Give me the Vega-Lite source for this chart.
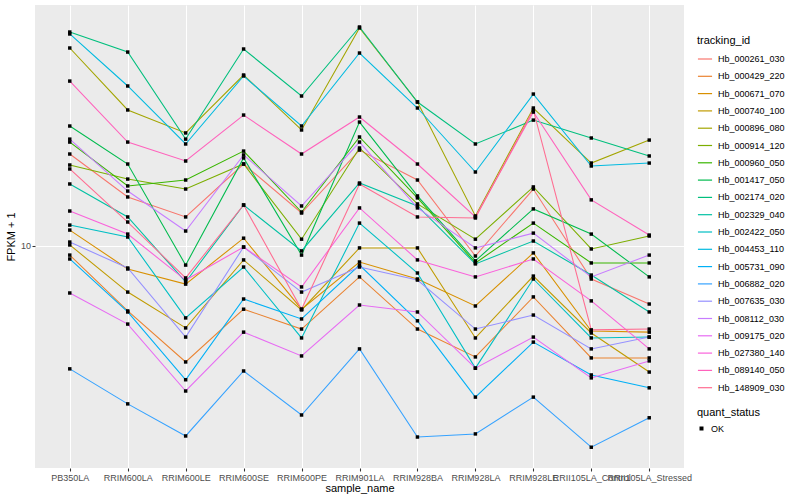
{
"$schema":"https://vega.github.io/schema/vega-lite/v6.json",
"autosize":{"type":"none"},
"padding":{"left":35,"top":5,"right":116,"bottom":32},
"width":649,"height":463,
"background":"#FFFFFF",
"datasets":{"expr":[
{"sample_name":"PB350LA","tracking_id":"Hb_000261_030","fpkm":16.98,"quant_status":"OK"},
{"sample_name":"RRIM600LA","tracking_id":"Hb_000261_030","fpkm":13.26,"quant_status":"OK"},
{"sample_name":"RRIM600LE","tracking_id":"Hb_000261_030","fpkm":11.82,"quant_status":"OK"},
{"sample_name":"RRIM600SE","tracking_id":"Hb_000261_030","fpkm":16.03,"quant_status":"OK"},
{"sample_name":"RRIM600PE","tracking_id":"Hb_000261_030","fpkm":12.09,"quant_status":"OK"},
{"sample_name":"RRIM901LA","tracking_id":"Hb_000261_030","fpkm":17.37,"quant_status":"OK"},
{"sample_name":"RRIM928BA","tracking_id":"Hb_000261_030","fpkm":14.62,"quant_status":"OK"},
{"sample_name":"RRIM928LA","tracking_id":"Hb_000261_030","fpkm":9.44,"quant_status":"OK"},
{"sample_name":"RRIM928LE","tracking_id":"Hb_000261_030","fpkm":13.88,"quant_status":"OK"},
{"sample_name":"RRII105LA_Control","tracking_id":"Hb_000261_030","fpkm":8.27,"quant_status":"OK"},
{"sample_name":"RRII105LA_Stressed","tracking_id":"Hb_000261_030","fpkm":7.16,"quant_status":"OK"},
{"sample_name":"PB350LA","tracking_id":"Hb_000429_220","fpkm":9.49,"quant_status":"OK"},
{"sample_name":"RRIM600LA","tracking_id":"Hb_000429_220","fpkm":6.88,"quant_status":"OK"},
{"sample_name":"RRIM600LE","tracking_id":"Hb_000429_220","fpkm":5.13,"quant_status":"OK"},
{"sample_name":"RRIM600SE","tracking_id":"Hb_000429_220","fpkm":6.95,"quant_status":"OK"},
{"sample_name":"RRIM600PE","tracking_id":"Hb_000429_220","fpkm":6.20,"quant_status":"OK"},
{"sample_name":"RRIM901LA","tracking_id":"Hb_000429_220","fpkm":8.37,"quant_status":"OK"},
{"sample_name":"RRIM928BA","tracking_id":"Hb_000429_220","fpkm":6.20,"quant_status":"OK"},
{"sample_name":"RRIM928LA","tracking_id":"Hb_000429_220","fpkm":5.28,"quant_status":"OK"},
{"sample_name":"RRIM928LE","tracking_id":"Hb_000429_220","fpkm":7.46,"quant_status":"OK"},
{"sample_name":"RRII105LA_Control","tracking_id":"Hb_000429_220","fpkm":5.25,"quant_status":"OK"},
{"sample_name":"RRII105LA_Stressed","tracking_id":"Hb_000429_220","fpkm":5.25,"quant_status":"OK"},
{"sample_name":"PB350LA","tracking_id":"Hb_000671_070","fpkm":10.96,"quant_status":"OK"},
{"sample_name":"RRIM600LA","tracking_id":"Hb_000671_070","fpkm":8.76,"quant_status":"OK"},
{"sample_name":"RRIM600LE","tracking_id":"Hb_000671_070","fpkm":8.03,"quant_status":"OK"},
{"sample_name":"RRIM600SE","tracking_id":"Hb_000671_070","fpkm":10.46,"quant_status":"OK"},
{"sample_name":"RRIM600PE","tracking_id":"Hb_000671_070","fpkm":6.95,"quant_status":"OK"},
{"sample_name":"RRIM901LA","tracking_id":"Hb_000671_070","fpkm":9.12,"quant_status":"OK"},
{"sample_name":"RRIM928BA","tracking_id":"Hb_000671_070","fpkm":8.27,"quant_status":"OK"},
{"sample_name":"RRIM928LA","tracking_id":"Hb_000671_070","fpkm":7.08,"quant_status":"OK"},
{"sample_name":"RRIM928LE","tracking_id":"Hb_000671_070","fpkm":9.61,"quant_status":"OK"},
{"sample_name":"RRII105LA_Control","tracking_id":"Hb_000671_070","fpkm":6.13,"quant_status":"OK"},
{"sample_name":"RRII105LA_Stressed","tracking_id":"Hb_000671_070","fpkm":6.09,"quant_status":"OK"},
{"sample_name":"PB350LA","tracking_id":"Hb_000740_100","fpkm":10.06,"quant_status":"OK"},
{"sample_name":"RRIM600LA","tracking_id":"Hb_000740_100","fpkm":7.67,"quant_status":"OK"},
{"sample_name":"RRIM600LE","tracking_id":"Hb_000740_100","fpkm":6.24,"quant_status":"OK"},
{"sample_name":"RRIM600SE","tracking_id":"Hb_000740_100","fpkm":9.23,"quant_status":"OK"},
{"sample_name":"RRIM600PE","tracking_id":"Hb_000740_100","fpkm":6.92,"quant_status":"OK"},
{"sample_name":"RRIM901LA","tracking_id":"Hb_000740_100","fpkm":9.89,"quant_status":"OK"},
{"sample_name":"RRIM928BA","tracking_id":"Hb_000740_100","fpkm":9.89,"quant_status":"OK"},
{"sample_name":"RRIM928LA","tracking_id":"Hb_000740_100","fpkm":5.89,"quant_status":"OK"},
{"sample_name":"RRIM928LE","tracking_id":"Hb_000740_100","fpkm":8.41,"quant_status":"OK"},
{"sample_name":"RRII105LA_Control","tracking_id":"Hb_000740_100","fpkm":6.06,"quant_status":"OK"},
{"sample_name":"RRII105LA_Stressed","tracking_id":"Hb_000740_100","fpkm":4.84,"quant_status":"OK"},
{"sample_name":"PB350LA","tracking_id":"Hb_000896_080","fpkm":31.26,"quant_status":"OK"},
{"sample_name":"RRIM600LA","tracking_id":"Hb_000896_080","fpkm":21.88,"quant_status":"OK"},
{"sample_name":"RRIM600LE","tracking_id":"Hb_000896_080","fpkm":19.17,"quant_status":"OK"},
{"sample_name":"RRIM600SE","tracking_id":"Hb_000896_080","fpkm":26.76,"quant_status":"OK"},
{"sample_name":"RRIM600PE","tracking_id":"Hb_000896_080","fpkm":19.50,"quant_status":"OK"},
{"sample_name":"RRIM901LA","tracking_id":"Hb_000896_080","fpkm":35.08,"quant_status":"OK"},
{"sample_name":"RRIM928BA","tracking_id":"Hb_000896_080","fpkm":22.91,"quant_status":"OK"},
{"sample_name":"RRIM928LA","tracking_id":"Hb_000896_080","fpkm":11.89,"quant_status":"OK"},
{"sample_name":"RRIM928LE","tracking_id":"Hb_000896_080","fpkm":22.13,"quant_status":"OK"},
{"sample_name":"RRII105LA_Control","tracking_id":"Hb_000896_080","fpkm":16.12,"quant_status":"OK"},
{"sample_name":"RRII105LA_Stressed","tracking_id":"Hb_000896_080","fpkm":18.40,"quant_status":"OK"},
{"sample_name":"PB350LA","tracking_id":"Hb_000914_120","fpkm":15.94,"quant_status":"OK"},
{"sample_name":"RRIM600LA","tracking_id":"Hb_000914_120","fpkm":14.70,"quant_status":"OK"},
{"sample_name":"RRIM600LE","tracking_id":"Hb_000914_120","fpkm":13.88,"quant_status":"OK"},
{"sample_name":"RRIM600SE","tracking_id":"Hb_000914_120","fpkm":16.03,"quant_status":"OK"},
{"sample_name":"RRIM600PE","tracking_id":"Hb_000914_120","fpkm":10.40,"quant_status":"OK"},
{"sample_name":"RRIM901LA","tracking_id":"Hb_000914_120","fpkm":17.58,"quant_status":"OK"},
{"sample_name":"RRIM928BA","tracking_id":"Hb_000914_120","fpkm":12.74,"quant_status":"OK"},
{"sample_name":"RRIM928LA","tracking_id":"Hb_000914_120","fpkm":10.40,"quant_status":"OK"},
{"sample_name":"RRIM928LE","tracking_id":"Hb_000914_120","fpkm":14.05,"quant_status":"OK"},
{"sample_name":"RRII105LA_Control","tracking_id":"Hb_000914_120","fpkm":9.83,"quant_status":"OK"},
{"sample_name":"RRII105LA_Stressed","tracking_id":"Hb_000914_120","fpkm":10.59,"quant_status":"OK"},
{"sample_name":"PB350LA","tracking_id":"Hb_000960_050","fpkm":18.19,"quant_status":"OK"},
{"sample_name":"RRIM600LA","tracking_id":"Hb_000960_050","fpkm":14.13,"quant_status":"OK"},
{"sample_name":"RRIM600LE","tracking_id":"Hb_000960_050","fpkm":14.62,"quant_status":"OK"},
{"sample_name":"RRIM600SE","tracking_id":"Hb_000960_050","fpkm":17.27,"quant_status":"OK"},
{"sample_name":"RRIM600PE","tracking_id":"Hb_000960_050","fpkm":12.16,"quant_status":"OK"},
{"sample_name":"RRIM901LA","tracking_id":"Hb_000960_050","fpkm":18.73,"quant_status":"OK"},
{"sample_name":"RRIM928BA","tracking_id":"Hb_000960_050","fpkm":13.19,"quant_status":"OK"},
{"sample_name":"RRIM928LA","tracking_id":"Hb_000960_050","fpkm":9.07,"quant_status":"OK"},
{"sample_name":"RRIM928LE","tracking_id":"Hb_000960_050","fpkm":11.41,"quant_status":"OK"},
{"sample_name":"RRII105LA_Control","tracking_id":"Hb_000960_050","fpkm":9.07,"quant_status":"OK"},
{"sample_name":"RRII105LA_Stressed","tracking_id":"Hb_000960_050","fpkm":9.07,"quant_status":"OK"},
{"sample_name":"PB350LA","tracking_id":"Hb_001417_050","fpkm":19.95,"quant_status":"OK"},
{"sample_name":"RRIM600LA","tracking_id":"Hb_001417_050","fpkm":16.03,"quant_status":"OK"},
{"sample_name":"RRIM600LE","tracking_id":"Hb_001417_050","fpkm":8.96,"quant_status":"OK"},
{"sample_name":"RRIM600SE","tracking_id":"Hb_001417_050","fpkm":16.60,"quant_status":"OK"},
{"sample_name":"RRIM600PE","tracking_id":"Hb_001417_050","fpkm":9.49,"quant_status":"OK"},
{"sample_name":"RRIM901LA","tracking_id":"Hb_001417_050","fpkm":20.41,"quant_status":"OK"},
{"sample_name":"RRIM928BA","tracking_id":"Hb_001417_050","fpkm":13.34,"quant_status":"OK"},
{"sample_name":"RRIM928LA","tracking_id":"Hb_001417_050","fpkm":9.18,"quant_status":"OK"},
{"sample_name":"RRIM928LE","tracking_id":"Hb_001417_050","fpkm":12.38,"quant_status":"OK"},
{"sample_name":"RRII105LA_Control","tracking_id":"Hb_001417_050","fpkm":10.71,"quant_status":"OK"},
{"sample_name":"RRII105LA_Stressed","tracking_id":"Hb_001417_050","fpkm":8.37,"quant_status":"OK"},
{"sample_name":"PB350LA","tracking_id":"Hb_002174_020","fpkm":34.27,"quant_status":"OK"},
{"sample_name":"RRIM600LA","tracking_id":"Hb_002174_020","fpkm":30.54,"quant_status":"OK"},
{"sample_name":"RRIM600LE","tracking_id":"Hb_002174_020","fpkm":18.50,"quant_status":"OK"},
{"sample_name":"RRIM600SE","tracking_id":"Hb_002174_020","fpkm":31.08,"quant_status":"OK"},
{"sample_name":"RRIM600PE","tracking_id":"Hb_002174_020","fpkm":23.71,"quant_status":"OK"},
{"sample_name":"RRIM901LA","tracking_id":"Hb_002174_020","fpkm":35.28,"quant_status":"OK"},
{"sample_name":"RRIM928BA","tracking_id":"Hb_002174_020","fpkm":22.91,"quant_status":"OK"},
{"sample_name":"RRIM928LA","tracking_id":"Hb_002174_020","fpkm":17.99,"quant_status":"OK"},
{"sample_name":"RRIM928LE","tracking_id":"Hb_002174_020","fpkm":20.64,"quant_status":"OK"},
{"sample_name":"RRII105LA_Control","tracking_id":"Hb_002174_020","fpkm":18.62,"quant_status":"OK"},
{"sample_name":"RRII105LA_Stressed","tracking_id":"Hb_002174_020","fpkm":16.79,"quant_status":"OK"},
{"sample_name":"PB350LA","tracking_id":"Hb_002329_040","fpkm":14.29,"quant_status":"OK"},
{"sample_name":"RRIM600LA","tracking_id":"Hb_002329_040","fpkm":11.82,"quant_status":"OK"},
{"sample_name":"RRIM600LE","tracking_id":"Hb_002329_040","fpkm":8.13,"quant_status":"OK"},
{"sample_name":"RRIM600SE","tracking_id":"Hb_002329_040","fpkm":12.66,"quant_status":"OK"},
{"sample_name":"RRIM600PE","tracking_id":"Hb_002329_040","fpkm":9.72,"quant_status":"OK"},
{"sample_name":"RRIM901LA","tracking_id":"Hb_002329_040","fpkm":14.37,"quant_status":"OK"},
{"sample_name":"RRIM928BA","tracking_id":"Hb_002329_040","fpkm":12.59,"quant_status":"OK"},
{"sample_name":"RRIM928LA","tracking_id":"Hb_002329_040","fpkm":9.02,"quant_status":"OK"},
{"sample_name":"RRIM928LE","tracking_id":"Hb_002329_040","fpkm":10.29,"quant_status":"OK"},
{"sample_name":"RRII105LA_Control","tracking_id":"Hb_002329_040","fpkm":8.46,"quant_status":"OK"},
{"sample_name":"RRII105LA_Stressed","tracking_id":"Hb_002329_040","fpkm":6.84,"quant_status":"OK"},
{"sample_name":"PB350LA","tracking_id":"Hb_002422_050","fpkm":11.28,"quant_status":"OK"},
{"sample_name":"RRIM600LA","tracking_id":"Hb_002422_050","fpkm":10.53,"quant_status":"OK"},
{"sample_name":"RRIM600LE","tracking_id":"Hb_002422_050","fpkm":6.61,"quant_status":"OK"},
{"sample_name":"RRIM600SE","tracking_id":"Hb_002422_050","fpkm":8.86,"quant_status":"OK"},
{"sample_name":"RRIM600PE","tracking_id":"Hb_002422_050","fpkm":5.89,"quant_status":"OK"},
{"sample_name":"RRIM901LA","tracking_id":"Hb_002422_050","fpkm":11.41,"quant_status":"OK"},
{"sample_name":"RRIM928BA","tracking_id":"Hb_002422_050","fpkm":8.56,"quant_status":"OK"},
{"sample_name":"RRIM928LA","tracking_id":"Hb_002422_050","fpkm":4.95,"quant_status":"OK"},
{"sample_name":"RRIM928LE","tracking_id":"Hb_002422_050","fpkm":8.27,"quant_status":"OK"},
{"sample_name":"RRII105LA_Control","tracking_id":"Hb_002422_050","fpkm":5.89,"quant_status":"OK"},
{"sample_name":"RRII105LA_Stressed","tracking_id":"Hb_002422_050","fpkm":5.92,"quant_status":"OK"},
{"sample_name":"PB350LA","tracking_id":"Hb_004453_110","fpkm":33.89,"quant_status":"OK"},
{"sample_name":"RRIM600LA","tracking_id":"Hb_004453_110","fpkm":25.12,"quant_status":"OK"},
{"sample_name":"RRIM600LE","tracking_id":"Hb_004453_110","fpkm":17.99,"quant_status":"OK"},
{"sample_name":"RRIM600SE","tracking_id":"Hb_004453_110","fpkm":26.61,"quant_status":"OK"},
{"sample_name":"RRIM600PE","tracking_id":"Hb_004453_110","fpkm":19.95,"quant_status":"OK"},
{"sample_name":"RRIM901LA","tracking_id":"Hb_004453_110","fpkm":30.37,"quant_status":"OK"},
{"sample_name":"RRIM928BA","tracking_id":"Hb_004453_110","fpkm":22.13,"quant_status":"OK"},
{"sample_name":"RRIM928LA","tracking_id":"Hb_004453_110","fpkm":15.31,"quant_status":"OK"},
{"sample_name":"RRIM928LE","tracking_id":"Hb_004453_110","fpkm":23.98,"quant_status":"OK"},
{"sample_name":"RRII105LA_Control","tracking_id":"Hb_004453_110","fpkm":15.85,"quant_status":"OK"},
{"sample_name":"RRII105LA_Stressed","tracking_id":"Hb_004453_110","fpkm":16.12,"quant_status":"OK"},
{"sample_name":"PB350LA","tracking_id":"Hb_005731_090","fpkm":9.28,"quant_status":"OK"},
{"sample_name":"RRIM600LA","tracking_id":"Hb_005731_090","fpkm":6.84,"quant_status":"OK"},
{"sample_name":"RRIM600LE","tracking_id":"Hb_005731_090","fpkm":4.63,"quant_status":"OK"},
{"sample_name":"RRIM600SE","tracking_id":"Hb_005731_090","fpkm":7.37,"quant_status":"OK"},
{"sample_name":"RRIM600PE","tracking_id":"Hb_005731_090","fpkm":6.57,"quant_status":"OK"},
{"sample_name":"RRIM901LA","tracking_id":"Hb_005731_090","fpkm":8.96,"quant_status":"OK"},
{"sample_name":"RRIM928BA","tracking_id":"Hb_005731_090","fpkm":6.50,"quant_status":"OK"},
{"sample_name":"RRIM928LA","tracking_id":"Hb_005731_090","fpkm":4.19,"quant_status":"OK"},
{"sample_name":"RRIM928LE","tracking_id":"Hb_005731_090","fpkm":5.75,"quant_status":"OK"},
{"sample_name":"RRII105LA_Control","tracking_id":"Hb_005731_090","fpkm":4.76,"quant_status":"OK"},
{"sample_name":"RRII105LA_Stressed","tracking_id":"Hb_005731_090","fpkm":4.42,"quant_status":"OK"},
{"sample_name":"PB350LA","tracking_id":"Hb_006882_020","fpkm":4.93,"quant_status":"OK"},
{"sample_name":"RRIM600LA","tracking_id":"Hb_006882_020","fpkm":4.03,"quant_status":"OK"},
{"sample_name":"RRIM600LE","tracking_id":"Hb_006882_020","fpkm":3.35,"quant_status":"OK"},
{"sample_name":"RRIM600SE","tracking_id":"Hb_006882_020","fpkm":4.87,"quant_status":"OK"},
{"sample_name":"RRIM600PE","tracking_id":"Hb_006882_020","fpkm":3.78,"quant_status":"OK"},
{"sample_name":"RRIM901LA","tracking_id":"Hb_006882_020","fpkm":5.53,"quant_status":"OK"},
{"sample_name":"RRIM928BA","tracking_id":"Hb_006882_020","fpkm":3.33,"quant_status":"OK"},
{"sample_name":"RRIM928LA","tracking_id":"Hb_006882_020","fpkm":3.39,"quant_status":"OK"},
{"sample_name":"RRIM928LE","tracking_id":"Hb_006882_020","fpkm":4.19,"quant_status":"OK"},
{"sample_name":"RRII105LA_Control","tracking_id":"Hb_006882_020","fpkm":3.14,"quant_status":"OK"},
{"sample_name":"RRII105LA_Stressed","tracking_id":"Hb_006882_020","fpkm":3.72,"quant_status":"OK"},
{"sample_name":"PB350LA","tracking_id":"Hb_007635_030","fpkm":10.23,"quant_status":"OK"},
{"sample_name":"RRIM600LA","tracking_id":"Hb_007635_030","fpkm":8.81,"quant_status":"OK"},
{"sample_name":"RRIM600LE","tracking_id":"Hb_007635_030","fpkm":5.92,"quant_status":"OK"},
{"sample_name":"RRIM600SE","tracking_id":"Hb_007635_030","fpkm":9.94,"quant_status":"OK"},
{"sample_name":"RRIM600PE","tracking_id":"Hb_007635_030","fpkm":7.67,"quant_status":"OK"},
{"sample_name":"RRIM901LA","tracking_id":"Hb_007635_030","fpkm":8.86,"quant_status":"OK"},
{"sample_name":"RRIM928BA","tracking_id":"Hb_007635_030","fpkm":8.22,"quant_status":"OK"},
{"sample_name":"RRIM928LA","tracking_id":"Hb_007635_030","fpkm":6.20,"quant_status":"OK"},
{"sample_name":"RRIM928LE","tracking_id":"Hb_007635_030","fpkm":6.72,"quant_status":"OK"},
{"sample_name":"RRII105LA_Control","tracking_id":"Hb_007635_030","fpkm":5.53,"quant_status":"OK"},
{"sample_name":"RRII105LA_Stressed","tracking_id":"Hb_007635_030","fpkm":5.92,"quant_status":"OK"},
{"sample_name":"PB350LA","tracking_id":"Hb_008112_030","fpkm":18.50,"quant_status":"OK"},
{"sample_name":"RRIM600LA","tracking_id":"Hb_008112_030","fpkm":13.72,"quant_status":"OK"},
{"sample_name":"RRIM600LE","tracking_id":"Hb_008112_030","fpkm":10.90,"quant_status":"OK"},
{"sample_name":"RRIM600SE","tracking_id":"Hb_008112_030","fpkm":16.89,"quant_status":"OK"},
{"sample_name":"RRIM600PE","tracking_id":"Hb_008112_030","fpkm":12.59,"quant_status":"OK"},
{"sample_name":"RRIM901LA","tracking_id":"Hb_008112_030","fpkm":18.19,"quant_status":"OK"},
{"sample_name":"RRIM928BA","tracking_id":"Hb_008112_030","fpkm":12.45,"quant_status":"OK"},
{"sample_name":"RRIM928LA","tracking_id":"Hb_008112_030","fpkm":9.89,"quant_status":"OK"},
{"sample_name":"RRIM928LE","tracking_id":"Hb_008112_030","fpkm":10.77,"quant_status":"OK"},
{"sample_name":"RRII105LA_Control","tracking_id":"Hb_008112_030","fpkm":8.37,"quant_status":"OK"},
{"sample_name":"RRII105LA_Stressed","tracking_id":"Hb_008112_030","fpkm":9.49,"quant_status":"OK"},
{"sample_name":"PB350LA","tracking_id":"Hb_009175_020","fpkm":7.63,"quant_status":"OK"},
{"sample_name":"RRIM600LA","tracking_id":"Hb_009175_020","fpkm":6.38,"quant_status":"OK"},
{"sample_name":"RRIM600LE","tracking_id":"Hb_009175_020","fpkm":4.34,"quant_status":"OK"},
{"sample_name":"RRIM600SE","tracking_id":"Hb_009175_020","fpkm":6.09,"quant_status":"OK"},
{"sample_name":"RRIM600PE","tracking_id":"Hb_009175_020","fpkm":5.31,"quant_status":"OK"},
{"sample_name":"RRIM901LA","tracking_id":"Hb_009175_020","fpkm":7.12,"quant_status":"OK"},
{"sample_name":"RRIM928BA","tracking_id":"Hb_009175_020","fpkm":6.84,"quant_status":"OK"},
{"sample_name":"RRIM928LA","tracking_id":"Hb_009175_020","fpkm":4.95,"quant_status":"OK"},
{"sample_name":"RRIM928LE","tracking_id":"Hb_009175_020","fpkm":5.92,"quant_status":"OK"},
{"sample_name":"RRII105LA_Control","tracking_id":"Hb_009175_020","fpkm":4.68,"quant_status":"OK"},
{"sample_name":"RRII105LA_Stressed","tracking_id":"Hb_009175_020","fpkm":5.16,"quant_status":"OK"},
{"sample_name":"PB350LA","tracking_id":"Hb_027380_140","fpkm":12.23,"quant_status":"OK"},
{"sample_name":"RRIM600LA","tracking_id":"Hb_027380_140","fpkm":10.71,"quant_status":"OK"},
{"sample_name":"RRIM600LE","tracking_id":"Hb_027380_140","fpkm":8.22,"quant_status":"OK"},
{"sample_name":"RRIM600SE","tracking_id":"Hb_027380_140","fpkm":9.94,"quant_status":"OK"},
{"sample_name":"RRIM600PE","tracking_id":"Hb_027380_140","fpkm":7.90,"quant_status":"OK"},
{"sample_name":"RRIM901LA","tracking_id":"Hb_027380_140","fpkm":12.45,"quant_status":"OK"},
{"sample_name":"RRIM928BA","tracking_id":"Hb_027380_140","fpkm":9.23,"quant_status":"OK"},
{"sample_name":"RRIM928LA","tracking_id":"Hb_027380_140","fpkm":8.37,"quant_status":"OK"},
{"sample_name":"RRIM928LE","tracking_id":"Hb_027380_140","fpkm":9.28,"quant_status":"OK"},
{"sample_name":"RRII105LA_Control","tracking_id":"Hb_027380_140","fpkm":7.29,"quant_status":"OK"},
{"sample_name":"RRII105LA_Stressed","tracking_id":"Hb_027380_140","fpkm":5.53,"quant_status":"OK"},
{"sample_name":"PB350LA","tracking_id":"Hb_089140_050","fpkm":25.84,"quant_status":"OK"},
{"sample_name":"RRIM600LA","tracking_id":"Hb_089140_050","fpkm":18.19,"quant_status":"OK"},
{"sample_name":"RRIM600LE","tracking_id":"Hb_089140_050","fpkm":16.31,"quant_status":"OK"},
{"sample_name":"RRIM600SE","tracking_id":"Hb_089140_050","fpkm":21.25,"quant_status":"OK"},
{"sample_name":"RRIM600PE","tracking_id":"Hb_089140_050","fpkm":16.98,"quant_status":"OK"},
{"sample_name":"RRIM901LA","tracking_id":"Hb_089140_050","fpkm":21.01,"quant_status":"OK"},
{"sample_name":"RRIM928BA","tracking_id":"Hb_089140_050","fpkm":16.03,"quant_status":"OK"},
{"sample_name":"RRIM928LA","tracking_id":"Hb_089140_050","fpkm":11.82,"quant_status":"OK"},
{"sample_name":"RRIM928LE","tracking_id":"Hb_089140_050","fpkm":21.62,"quant_status":"OK"},
{"sample_name":"RRII105LA_Control","tracking_id":"Hb_089140_050","fpkm":13.04,"quant_status":"OK"},
{"sample_name":"RRII105LA_Stressed","tracking_id":"Hb_089140_050","fpkm":10.65,"quant_status":"OK"},
{"sample_name":"PB350LA","tracking_id":"Hb_148909_030","fpkm":15.58,"quant_status":"OK"},
{"sample_name":"RRIM600LA","tracking_id":"Hb_148909_030","fpkm":11.48,"quant_status":"OK"},
{"sample_name":"RRIM600LE","tracking_id":"Hb_148909_030","fpkm":8.32,"quant_status":"OK"},
{"sample_name":"RRIM600SE","tracking_id":"Hb_148909_030","fpkm":12.66,"quant_status":"OK"},
{"sample_name":"RRIM600PE","tracking_id":"Hb_148909_030","fpkm":6.95,"quant_status":"OK"},
{"sample_name":"RRIM901LA","tracking_id":"Hb_148909_030","fpkm":14.29,"quant_status":"OK"},
{"sample_name":"RRIM928BA","tracking_id":"Hb_148909_030","fpkm":11.82,"quant_status":"OK"},
{"sample_name":"RRIM928LA","tracking_id":"Hb_148909_030","fpkm":11.75,"quant_status":"OK"},
{"sample_name":"RRIM928LE","tracking_id":"Hb_148909_030","fpkm":21.88,"quant_status":"OK"},
{"sample_name":"RRII105LA_Control","tracking_id":"Hb_148909_030","fpkm":6.17,"quant_status":"OK"},
{"sample_name":"RRII105LA_Stressed","tracking_id":"Hb_148909_030","fpkm":6.20,"quant_status":"OK"}
]},
"data":{"name":"expr"},
"encoding":{
"x":{"field":"sample_name","type":"nominal",
"sort":["PB350LA","RRIM600LA","RRIM600LE","RRIM600SE","RRIM600PE","RRIM901LA","RRIM928BA","RRIM928LA","RRIM928LE","RRII105LA_Control","RRII105LA_Stressed"],
"scale":{"type":"point","padding":0.6},
"axis":{"title":"sample_name","labelAngle":0,"labelOverlap":false,"labelBound":false,"labelFlush":false,"labelLimit":0,"grid":true,"titlePadding":0}},
"y":{"field":"fpkm","type":"quantitative",
"scale":{"type":"log","domain":[2.786,40.04],"nice":false,"zero":false},
"axis":{"title":"FPKM + 1","values":[10],"grid":true,"titlePadding":4,"labelPadding":1.5}}
},
"layer":[
{"mark":{"type":"line","strokeWidth":1.07},
"encoding":{"color":{"field":"tracking_id","type":"nominal",
"scale":{"domain":["Hb_000261_030","Hb_000429_220","Hb_000671_070","Hb_000740_100","Hb_000896_080","Hb_000914_120","Hb_000960_050","Hb_001417_050","Hb_002174_020","Hb_002329_040","Hb_002422_050","Hb_004453_110","Hb_005731_090","Hb_006882_020","Hb_007635_030","Hb_008112_030","Hb_009175_020","Hb_027380_140","Hb_089140_050","Hb_148909_030"],
"range":["#F8766D","#EA8331","#D89000","#C09B00","#A3A500","#7CAE00","#39B600","#00BB4E","#00BF7D","#00C1A3","#00BFC4","#00BAE0","#00B0F6","#35A2FF","#9590FF","#C77CFF","#E76BF3","#FA62DB","#FF62BC","#FF6C91"]},
"legend":{"title":"tracking_id","orient":"none","legendX":662,"legendY":30,"symbolType":"stroke","symbolSize":200,"symbolStrokeWidth":1.2,"rowPadding":4.3,"titlePadding":5}}}},
{"mark":{"type":"point","filled":true,"size":12,"color":"#000000","opacity":1},
"encoding":{"shape":{"field":"quant_status","type":"nominal","scale":{"range":["square"]},
"legend":{"title":"quant_status","orient":"none","legendX":662,"legendY":402,"symbolSize":16,"symbolFillColor":"#000000","symbolStrokeColor":"#000000","titlePadding":6}}}}
],
"config":{
"font":"Liberation Sans",
"view":{"fill":"#EBEBEB","stroke":null},
"axis":{"domain":false,"gridColor":"#FFFFFF","gridWidth":1.07,"tickColor":"#333333","tickSize":3,"tickWidth":1.07,"labelColor":"#4D4D4D","labelFontSize":9,"labelPadding":2,"titleFontSize":11,"titleFontWeight":"normal","titleColor":"#000000"},
"legend":{"titleFontSize":11,"titleFontWeight":"normal","titleColor":"#000000","labelFontSize":9,"labelColor":"#000000","labelOffset":5,"padding":0}
}
}
